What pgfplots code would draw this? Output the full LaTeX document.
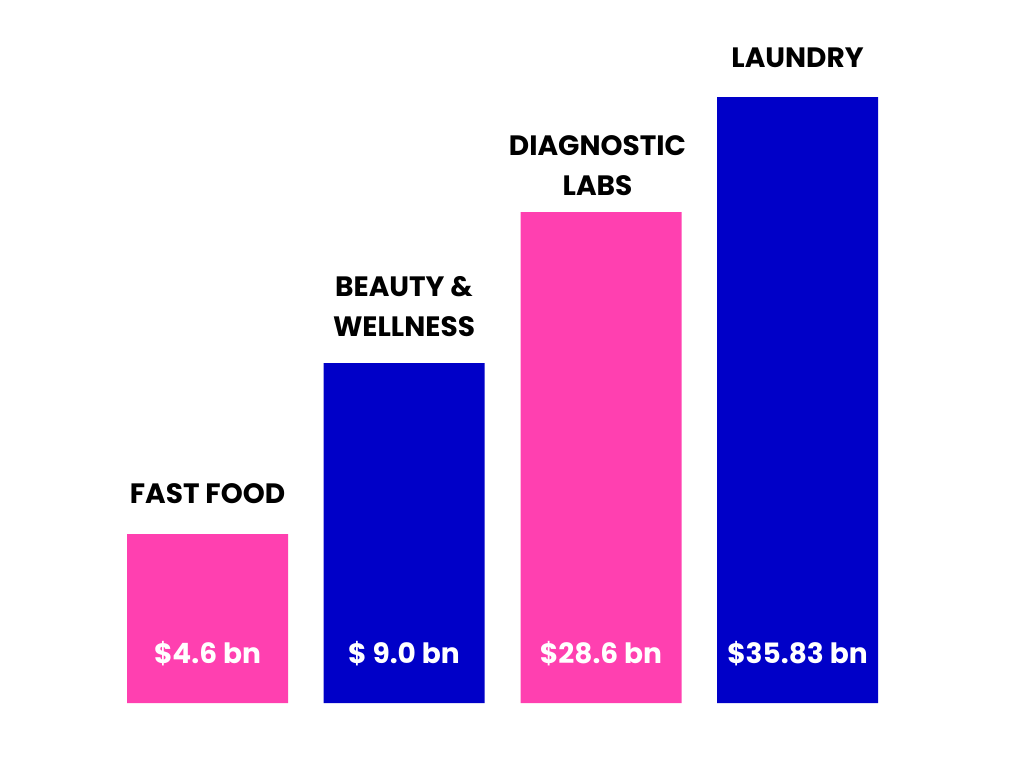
\documentclass[border=0pt]{standalone}
\usepackage{pgfplots}
\pgfplotsset{compat=1.18}
\usepackage{fontspec}
\setmainfont{Poppins}
\definecolor{pinkbar}{HTML}{FF40B0}
\definecolor{bluebar}{HTML}{0000C8}
\begin{document}
\begin{tikzpicture}[x=0.5pt,y=0.5pt]
\path[use as bounding box] (0,0) rectangle (1024,768);
\begin{axis}[
  at={(0,0)}, anchor=south west,
  scale only axis, width=512pt, height=384pt,
  xmin=0, xmax=1024, ymin=-65, ymax=703,
  hide axis, clip=false,
  ybar, bar width=80.5pt, bar shift=0pt,
]
\addplot[fill=pinkbar, draw=none] coordinates {(207.5,169) (601,491)};
\addplot[fill=bluebar, draw=none] coordinates {(404,340) (797.5,606)};
\begin{scope}[every node/.style={font=\fontsize{14}{20}\selectfont\bfseries, align=center}]
\node[white] at (axis cs:207.5,49) {\$4.6 bn};
\node[white] at (axis cs:404,49) {\$ 9.0 bn};
\node[white] at (axis cs:601,49) {\$28.6 bn};
\node[white] at (axis cs:797.5,49) {\$35.83 bn};
\node[anchor=base] at (axis cs:207.5,200) {FAST FOOD};
\node[anchor=base] at (axis cs:404,367) {BEAUTY \&\\WELLNESS};
\node[anchor=base] at (axis cs:597.5,508) {DIAGNOSTIC\\LABS};
\node[anchor=base] at (axis cs:797.5,635) {LAUNDRY};
\end{scope}
\end{axis}
\end{tikzpicture}
\end{document}
